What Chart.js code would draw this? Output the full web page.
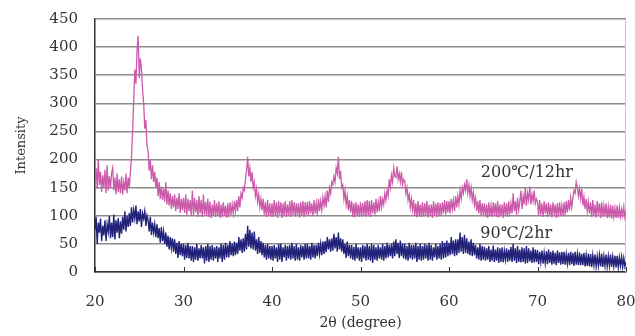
<!DOCTYPE html>
<html>
<head>
<meta charset="utf-8">
<script src="https://cdn.jsdelivr.net/npm/chart.js@4/dist/chart.umd.min.js"></script>
<style>
  html, body { margin: 0; padding: 0; background: #fff; }
  #wrap { width: 635px; height: 336px; }
</style>
</head>
<body>
<div id="wrap"><canvas id="xrd"></canvas></div>
<script>
// 2theta sampling, 20..80 every 0.125 degree
const twoTheta = Array.from({ length: 481 }, (_, i) => 20 + i * 0.125);

// 200℃/12hr (one row = one degree, 8 values)
const sample200 = [
  160, 185, 148, 200, 155, 178, 142, 172,
  150, 182, 140, 190, 145, 170, 150, 176,
  185, 145, 168, 138, 175, 142, 165, 140,
  170, 138, 160, 145, 175, 140, 168, 150,
  178, 205, 250, 305, 360, 335, 395, 420,
  345, 380, 360, 325, 300, 255, 270, 225,
  215, 180, 200, 165, 190, 160, 178, 150,
  168, 135, 160, 130, 152, 128, 148, 125,
  160, 120, 145, 118, 140, 112, 135, 115,
  138, 108, 132, 112, 140, 105, 130, 110,
  132, 105, 138, 102, 130, 108, 128, 100,
  145, 100, 132, 106, 128,  98, 135, 104,
  128,  98, 138, 102, 125, 100, 130,  98,
  125,  96, 120, 100, 128,  98, 122, 100,
  126,  96, 120,  98, 124, 100, 118,  96,
  122,  98, 124, 102, 120, 104, 126, 108,
  128, 108, 135, 115, 140, 132, 150, 145,
  165, 180, 205, 170, 185, 160, 178, 150,
  160, 135, 148, 125, 138, 115, 130, 110,
  130, 102, 124,  98, 128, 100, 122,  98,
  122,  98, 128, 100, 124,  96, 126, 102,
  124,  96, 122, 100, 126,  98, 120, 100,
  126,  98, 128, 102, 124,  99, 122, 100,
  122,  97, 124, 100, 126,  98, 124, 102,
  125, 100, 126, 104, 122, 100, 128, 104,
  122, 102, 130, 108, 126, 110, 132, 118,
  135, 115, 145, 125, 150, 140, 160, 155,
  170, 160, 185, 175, 205, 165, 180, 150,
  155, 130, 145, 120, 135, 110, 128, 106,
  126,  98, 122,  97, 124, 100, 120,  98,
  124,  99, 122, 101, 126,  98, 128, 100,
  126,  98, 128, 104, 124, 102, 130, 106,
  125, 108, 135, 115, 130, 120, 140, 128,
  145, 135, 165, 150, 172, 160, 185, 170,
  168, 188, 165, 175, 160, 178, 155, 165,
  162, 140, 150, 128, 138, 115, 130, 110,
  128, 100, 122,  97, 126,  99, 120,  98,
  124,  99, 122, 101, 126,  97, 120, 100,
  120,  96, 126, 100, 122,  98, 124, 100,
  122, 100, 124, 104, 128, 102, 126, 106,
  126, 104, 130, 112, 128, 108, 135, 115,
  135, 120, 145, 130, 150, 140, 155, 145,
  165, 140, 155, 135, 150, 128, 142, 120,
  132, 108, 126, 104, 128, 100, 122, 102,
  122,  98, 120,  96, 124, 100, 118,  98,
  124, 100, 122,  98, 126,  97, 120, 100,
  120,  96, 124, 100, 122,  98, 126, 102,
  122, 104, 140, 108, 126, 102, 132, 110,
  125, 145, 112, 135, 120, 150, 118, 140,
  128, 152, 120, 138, 126, 145, 122, 130,
  124, 100, 128, 102, 122,  98, 126, 104,
  122,  98, 124, 100, 120,  97, 124, 102,
  120,  96, 122,  98, 124, 100, 118,  99,
  124, 102, 126, 106, 128, 110, 132, 115,
  132, 145, 140, 160, 150, 135, 148, 130,
  148, 118, 134, 112, 130, 108, 125, 104,
  124,  98, 128, 100, 120,  97, 126, 102,
  122,  96, 124,  98, 118, 100, 122,  96,
  116,  97, 120,  95, 118,  98, 114,  96,
  118,  96, 115,  98, 112, 100, 116,  97,
  108
];

// 90℃/2hr
const sample90 = [
  75, 98, 50, 88, 70, 95, 55, 82,
  65, 92, 55, 85, 72, 100, 60, 88,
  62, 102, 58, 92, 70, 96, 60, 90,
  68, 98, 75, 108, 72, 100, 80, 105,
  82, 115, 88, 110, 95, 118, 85, 108,
  90, 112, 80, 104, 95, 108, 82, 100,
  92, 72, 98, 66, 88, 70, 85, 62,
  85, 60, 78, 52, 80, 55, 72, 50,
  70, 45, 65, 40, 62, 42, 60, 36,
  58, 32, 52, 25, 55, 30, 50, 28,
  50, 22, 48, 25, 52, 24, 46, 20,
  46, 18, 44, 22, 50, 20, 42, 24,
  48, 24, 44, 15, 46, 20, 50, 18,
  46, 22, 48, 20, 44, 24, 46, 18,
  44, 24, 50, 18, 48, 22, 52, 26,
  48, 26, 55, 30, 50, 28, 54, 30,
  52, 32, 62, 38, 58, 34, 60, 36,
  68, 40, 82, 45, 75, 42, 70, 40,
  72, 38, 58, 32, 62, 34, 55, 30,
  52, 26, 48, 22, 50, 24, 46, 22,
  46, 20, 48, 24, 44, 18, 50, 22,
  50, 18, 44, 26, 48, 20, 46, 24,
  48, 22, 52, 24, 46, 20, 50, 22,
  44, 20, 48, 26, 46, 22, 50, 24,
  50, 24, 46, 22, 52, 26, 48, 24,
  48, 28, 52, 32, 50, 30, 54, 32,
  55, 35, 62, 40, 58, 36, 60, 38,
  68, 42, 62, 36, 70, 40, 60, 36,
  58, 32, 50, 25, 54, 28, 48, 24,
  48, 22, 45, 20, 50, 24, 44, 20,
  44, 18, 48, 24, 46, 20, 50, 22,
  46, 20, 50, 16, 48, 22, 44, 20,
  48, 24, 44, 22, 50, 20, 46, 24,
  52, 26, 48, 28, 50, 24, 54, 28,
  58, 32, 52, 25, 56, 28, 50, 24,
  50, 22, 46, 20, 52, 24, 48, 22,
  48, 24, 52, 18, 46, 22, 50, 20,
  46, 22, 50, 24, 48, 20, 52, 22,
  48, 20, 44, 26, 50, 22, 46, 24,
  50, 22, 55, 24, 52, 26, 56, 28,
  52, 30, 62, 32, 56, 28, 58, 30,
  58, 34, 70, 36, 62, 32, 66, 34,
  60, 32, 54, 30, 58, 28, 52, 30,
  48, 24, 44, 22, 50, 20, 46, 22,
  45, 20, 42, 22, 46, 18, 40, 20,
  47, 18, 40, 20, 44, 16, 42, 18,
  44, 17, 38, 22, 42, 18, 40, 20,
  45, 18, 50, 20, 42, 16, 46, 18,
  40, 17, 44, 18, 42, 15, 46, 16,
  42, 19, 38, 16, 44, 17, 40, 18,
  39, 14, 36, 18, 38, 15, 34, 16,
  37, 14, 40, 16, 36, 13, 38, 15,
  34, 12, 38, 16, 35, 13, 36, 14,
  36, 13, 32, 15, 34, 12, 36, 14,
  34, 11, 36, 13, 32, 12, 35, 12,
  32, 12, 34, 10, 30, 11, 33, 10,
  32, 9, 30, 12, 31, 10, 28, 11,
  30, 10, 33, 9, 28, 11, 31, 10,
  28, 11, 31, 9, 27, 10, 29, 8,
  29, 8, 26, 11, 27, 9, 25, 10,
  18
];

const yTicks = [0, 50, 100, 150, 200, 250, 300, 350, 400, 450];
const xTicks = [20, 30, 40, 50, 60, 70, 80];
const labels = [
  { text: '200℃/12hr', x: 68.8, y: 176 },
  { text: '90℃/2hr', x: 67.6, y: 67 }
];

const serif = '"DejaVu Serif", "Liberation Serif", serif';

const toPoints = arr => arr.map((v, i) => ({ x: twoTheta[i], y: v }));

// right frame line, small tick marks pointing up into the plot, sample names
const extras = {
  id: 'extras',
  beforeDatasetsDraw(chart) {
    const { ctx, chartArea } = chart;
    ctx.save();
    ctx.strokeStyle = '#c8c8c8';
    ctx.lineWidth = 1;
    ctx.beginPath();
    ctx.moveTo(chartArea.right - 0.5, chartArea.top);
    ctx.lineTo(chartArea.right - 0.5, chartArea.bottom);
    ctx.stroke();
    ctx.restore();
  },
  afterDatasetsDraw(chart) {
    const { ctx, chartArea, scales: { x, y } } = chart;
    ctx.save();
    ctx.strokeStyle = '#333';
    ctx.lineWidth = 1;
    xTicks.forEach(t => {
      const px = Math.round(x.getPixelForValue(t)) + 0.5;
      ctx.beginPath();
      ctx.moveTo(px, chartArea.bottom);
      ctx.lineTo(px, chartArea.bottom - 5);
      ctx.stroke();
    });
    ctx.fillStyle = '#333';
    ctx.font = '16px ' + serif;
    ctx.textAlign = 'center';
    ctx.textBaseline = 'middle';
    labels.forEach(l => {
      ctx.fillText(l.text, x.getPixelForValue(l.x), y.getPixelForValue(l.y));
    });
    ctx.restore();
  }
};

new Chart(document.getElementById('xrd'), {
  type: 'line',
  data: {
    datasets: [{
      label: '90℃/2hr',
      data: toPoints(sample90),
      borderColor: '#22227a',
      borderWidth: 1.4,
      pointRadius: 0,
      tension: 0
    }, {
      label: '200℃/12hr',
      data: toPoints(sample200),
      borderColor: '#cc5aaa',
      borderWidth: 1.3,
      pointRadius: 0,
      tension: 0
    }]
  },
  options: {
    responsive: true,
    maintainAspectRatio: false,
    animation: false,
    layout: { padding: { top: 19, right: 9, left: 10, bottom: 0 } },
    plugins: { legend: { display: false }, tooltip: { enabled: false } },
    scales: {
      x: {
        type: 'linear',
        min: 20,
        max: 80,
        afterFit: s => { s.height = 64; s.paddingRight = 0; s.paddingLeft = 0; },
        afterBuildTicks: s => { s.ticks = xTicks.map(v => ({ value: v })); },
        grid: { display: false, drawTicks: false },
        border: { display: true, color: '#333', width: 1.5 },
        ticks: { color: '#333', font: { family: serif, size: 15 }, padding: 21 },
        title: {
          display: true,
          text: '2θ (degree)',
          color: '#333',
          font: { family: serif, size: 14 },
          padding: { top: 3 }
        }
      },
      y: {
        min: 0,
        max: 450,
        afterFit: s => { s.width = 85; s.paddingTop = 0; s.paddingBottom = 0; },
        afterBuildTicks: s => { s.ticks = yTicks.map(v => ({ value: v })); },
        grid: { color: '#8c8c8c', lineWidth: 1.5, drawTicks: false },
        border: { display: true, color: '#333', width: 1.5 },
        ticks: { color: '#333', font: { family: serif, size: 15 }, padding: 17 },
        title: {
          display: true,
          text: 'Intensity',
          color: '#333',
          font: { family: serif, size: 13 },
          padding: { bottom: 4 }
        }
      }
    }
  },
  plugins: [extras]
});
</script>
</body>
</html>
